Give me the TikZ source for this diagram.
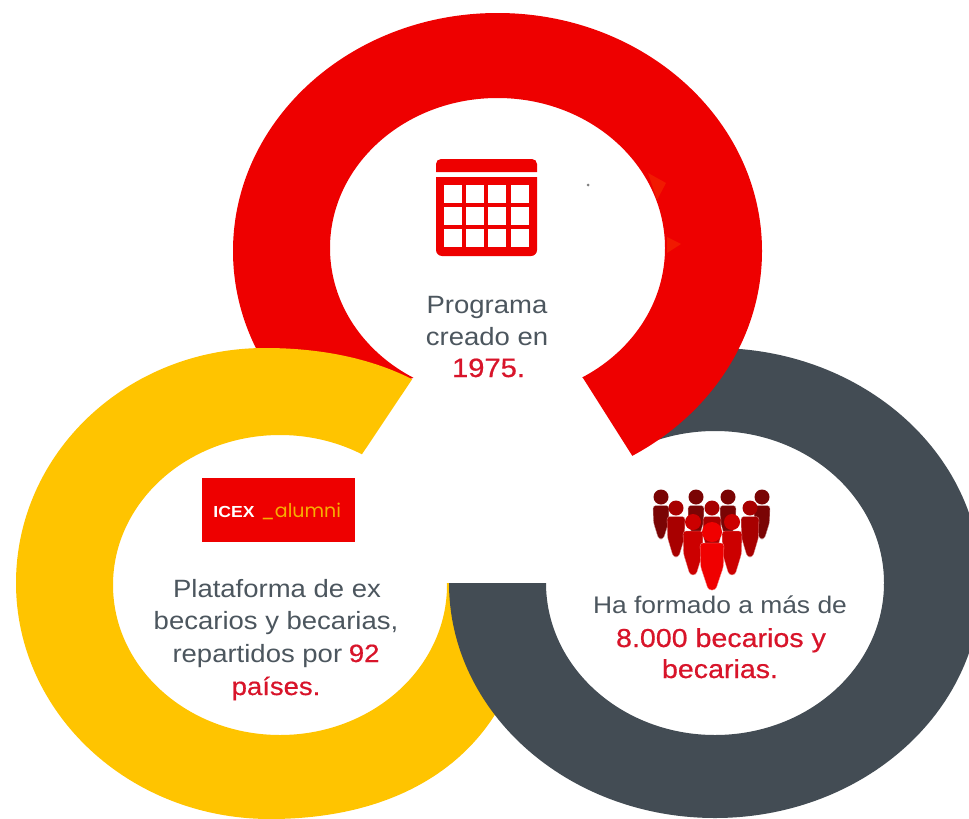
\documentclass[tikz,border=0pt]{standalone}
\usepackage{fontspec}
\setmainfont[FakeStretch=1.1]{Liberation Sans}
\newfontfamily\boldred[FakeStretch=1.1,FakeBold=0.6]{Liberation Sans}
\newfontfamily\alumfont{Poppins}
\definecolor{ringred}{HTML}{EE0000}
\definecolor{ringyellow}{HTML}{FFC400}
\definecolor{ringgray}{HTML}{434C54}
\definecolor{txtgray}{HTML}{4C565E}
\definecolor{txtred}{HTML}{D8142A}
\definecolor{alumni}{HTML}{F7AE00}
\definecolor{pdark}{HTML}{7A0404}
\definecolor{pmid}{HTML}{A80000}
\definecolor{pbright}{HTML}{CC0000}
\definecolor{pfront}{HTML}{F00000}
\tikzset{
  line/.style={font=\fontsize{25}{30}\selectfont,text=txtgray,anchor=base,inner sep=0pt},
  redline/.style={line,text=txtred,font=\fontsize{26}{30}\selectfont\boldred},
  cell/.style={fill=white},
}
\newcommand{\redt}[1]{\textcolor{txtred}{\boldred #1}}
\newcommand{\grayoutline}{(715,583) ellipse [x radius=266pt,y radius=235pt] (715,583) ellipse [x radius=169pt,y radius=152pt]}
% person: x, head y, foot y, body half width, head radius, colour
\newcommand{\person}[6]{%
  \fill[#6] (#1,#2) circle [radius=#5*1pt];
  \fill[#6,draw=white!60!#6,line width=0.3pt,rounded corners=3pt] ({#1-#4},{#2+#5+1}) -- ({#1+#4},{#2+#5+1}) -- ({#1+#4*0.95},{#2+(#3-#2)*0.6}) -- ({#1+#4*0.3},#3) -- ({#1-#4*0.3},#3) -- ({#1-#4*0.95},{#2+(#3-#2)*0.6}) -- cycle;
}
\begin{document}
\begin{tikzpicture}[x=1pt,y=-1pt]
\clip (0,0) rectangle (969,819);
\fill[white] (0,0) rectangle (969,819);
% gray ring, upper part
\begin{scope}
\clip (630,300) rectangle (969,584);
\fill[ringgray,even odd rule] \grayoutline;
\end{scope}
% red ring
\begin{scope}
\clip (583,378) -- (640,468) -- (969,468) -- (969,0) -- (0,0) -- (0,400) -- (340,400) -- (413,378) -- (497,300) -- cycle;
\fill[ringred,even odd rule]
  (497.5,251) ellipse [x radius=264.5pt,y radius=238pt]
  (497.5,248) ellipse [x radius=167.5pt,y radius=150pt];
\end{scope}
\fill[ringred!80!orange] (648,173) -- (666,183) -- (657,200) -- cycle;
\fill[ringred!80!orange] (667,237) -- (681,244) -- (667,253) -- cycle;
% yellow ring
\begin{scope}
\clip (-10,300) -- (440,337.5) -- (300,547) -- (300,583) -- (969,583) -- (969,830) -- (-10,830) -- cycle;
\fill[ringyellow,even odd rule]
  (265,348) .. controls (429,348) and (530,437) .. (530,583)
  .. controls (530,729) and (431,819) .. (270,819)
  .. controls (129,819) and (16,713) .. (16,583)
  .. controls (16,453) and (127,348) .. (265,348) -- cycle
  (280,585) ellipse [x radius=167pt,y radius=150pt];
\end{scope}
% gray ring, lower part
\begin{scope}
\clip (400,583) rectangle (969,830);
\fill[ringgray,even odd rule] \grayoutline;
\end{scope}
% calendar icon
\fill[ringred] (436,172) [rounded corners=5pt] -- (436,159) -- (537,159) [sharp corners] -- (537,172) -- cycle;
\fill[ringred] (436,177) -- (537,177) [rounded corners=6pt] -- (537,256) -- (436,256) [sharp corners] -- cycle;
\foreach \cx in {444,466,488,511}{
  \foreach \cy in {185,207,229}{
    \fill[cell] (\cx,\cy) rectangle ++(18,18);
  }
}
\fill[gray] (588,185) circle [radius=1.5pt];
% people icon
\foreach \px in {661,696,728,762}{\person{\px}{497}{539}{8}{7.5}{pdark}}
\foreach \px in {676,712,750}{\person{\px}{508}{557}{9}{7.5}{pmid}}
\foreach \px in {693,732}{\person{\px}{522}{575}{10}{8}{pbright}}
\person{712}{532}{590}{12}{10}{pfront}
% ICEX box
\node[fill=ringred,minimum width=153pt,minimum height=64pt,inner sep=0pt] (icex) at (278.5,510) {};
\node[anchor=base,inner sep=0pt,text=white,font=\fontsize{16}{18}\selectfont\bfseries] (icexword) at (234,517) {ICEX};
\node[anchor=base,inner sep=0pt,text=alumni,font=\fontsize{19}{20}\selectfont\alumfont] (alumniword) at (301,517) {\_alumni};
% texts
\node[line] (p1) at (487,313) {Programa};
\node[line] (p2) at (487,345) {creado en};
\node[redline,font=\fontsize{26.5}{30}\selectfont\boldred] (p3) at (488.5,377) {1975.};
\node[line] (y1) at (277,597) {Plataforma de ex};
\node[line] (y2) at (276,629) {becarios y becarias,};
\node[line] (y3) at (276,662) {repartidos por\kern-1pt\ \redt{92}};
\node[redline,font=\fontsize{25}{30}\selectfont\boldred] (y4) at (276,695) {países.};
\node[line,font=\fontsize{24}{30}\selectfont] (g1) at (720,613) {Ha formado a más de};
\node[redline] (g2) at (721,647) {8.000 becarios y};
\node[redline] (g3) at (720,678) {becarias.};
\end{tikzpicture}
\end{document}
